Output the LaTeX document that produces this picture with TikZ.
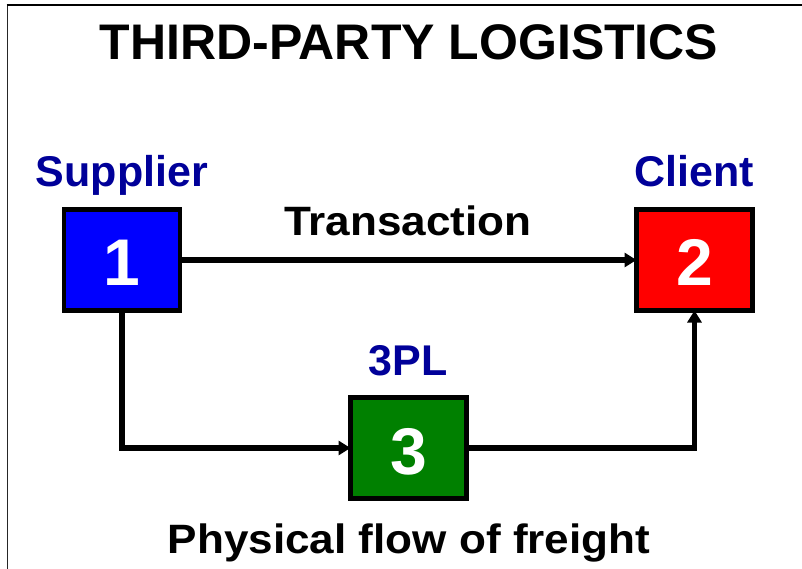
\documentclass[tikz,border=0pt]{standalone}
\usepackage{fontspec}
\setmainfont{Liberation Sans}
\usetikzlibrary{arrows.meta}
\definecolor{navy}{HTML}{000099}
\definecolor{boxblue}{HTML}{0000FF}
\definecolor{boxred}{HTML}{FF0000}
\definecolor{boxgreen}{HTML}{008000}
\newcommand{\widetext}[1]{\scalebox{1.075}[1]{#1}}
\tikzset{
  numbox/.style={draw=black, line width=4.5pt, minimum width=116pt, minimum height=101pt, inner sep=0pt, outer sep=0pt},
  digit/.style={text=white, font=\bfseries\fontsize{66}{70}\selectfont, inner sep=0pt, anchor=base},
  partylabel/.style={text=navy, font=\bfseries\fontsize{43}{50}\selectfont, inner sep=0pt, anchor=base},
  flowlabel/.style={text=black, font=\bfseries\fontsize{41}{50}\selectfont, inner sep=0pt, anchor=base},
  titlelabel/.style={text=black, font=\bfseries\fontsize{50}{60}\selectfont, inner sep=0pt, anchor=base},
  conn/.style={line width=5.5pt, -{Triangle[length=12pt,width=14pt]}}
}
\begin{document}
\begin{tikzpicture}[x=1pt,y=-1pt]
\useasboundingbox (0,0) rectangle (802,568);
\clip (0,0) rectangle (802,568);
% frame
\draw[line width=1.5pt, black!85] (7.5,600) -- (7.5,5);
\draw[line width=2.5pt, black] (6.5,5) -- (820,5);
% title
\node[titlelabel] (title) at (409,59) {THIRD-PARTY LOGISTICS};
% boxes
\node[numbox, fill=boxblue] (b1) at (122,260) {};
\node[numbox, fill=boxred] (b2) at (694.5,260) {};
\node[numbox, fill=boxgreen] (b3) at (408.5,448) {};
\node[digit] (d1) at (122,285) {1};
\node[digit] (d2) at (694.5,285) {2};
\node[digit] (d3) at (408.5,474) {3};
% labels
\node[partylabel] (sup) at (122,186) {Supplier};
\node[partylabel] (cli) at (694.5,186) {Client};
\node[partylabel] (tpl) at (408,375) {3PL};
\node[flowlabel] (trans) at (408,235) {\widetext{Transaction}};
\node[flowlabel] (phys) at (409,553) {\widetext{Physical flow of freight}};
% connectors
\draw[conn] (b1.east) -- (b2.west);
\draw[conn] (b1.south) |- (b3.west);
\draw[conn] (b3.east) -| (b2.south);
\end{tikzpicture}
\end{document}
